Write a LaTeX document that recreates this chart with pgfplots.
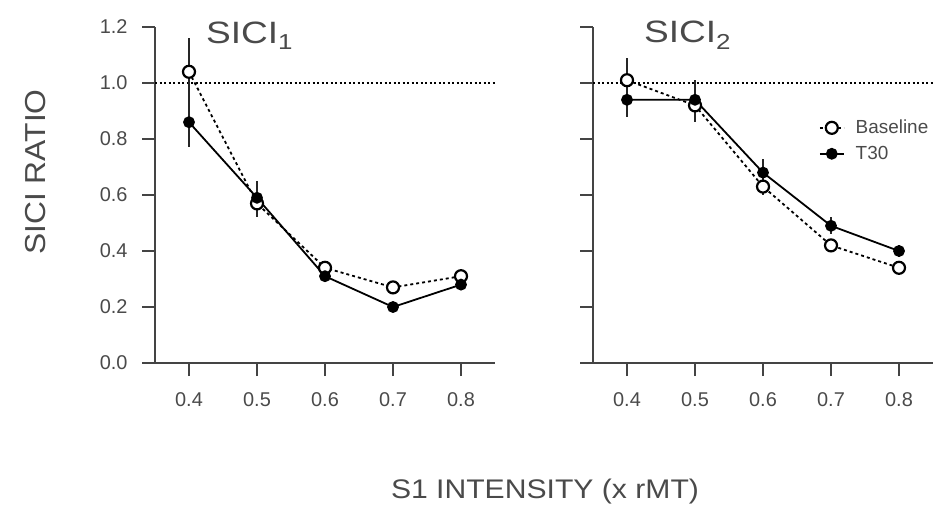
\documentclass[border=0pt]{standalone}
\usepackage{pgfplots}
\pgfplotsset{compat=1.18}
\usepackage{pgfplotstable}
\usepackage{fontspec}
\setmainfont{Liberation Sans}
\definecolor{txt}{HTML}{4A4A4A}
\definecolor{axc}{HTML}{444444}
\newcommand\tl[1]{{\fontsize{20}{22}\selectfont #1}}

\pgfplotstableread{
x y e
0.4 1.04 0.12
0.5 0.57 0.05
0.6 0.34 0.02
0.7 0.27 0.02
0.8 0.31 0.02
}\leftbase
\pgfplotstableread{
x y e
0.4 0.86 0.09
0.5 0.59 0.06
0.6 0.31 0.02
0.7 0.20 0.01
0.8 0.28 0.02
}\leftthirty
\pgfplotstableread{
x y e
0.4 1.01 0.08
0.5 0.92 0.06
0.6 0.63 0.03
0.7 0.42 0.02
0.8 0.34 0.02
}\rightbase
\pgfplotstableread{
x y e
0.4 0.94 0.06
0.5 0.94 0.07
0.6 0.68 0.05
0.7 0.49 0.03
0.8 0.40 0.02
}\rightthirty

\begin{document}
\begin{tikzpicture}[x=1bp,y=1bp]
\path[use as bounding box] (0,0) rectangle (942,-513);
\pgfplotsset{
  panel/.style={
    scale only axis, width=340bp, height=336bp,
    xmin=0.35, xmax=0.85, ymin=0, ymax=1.2,
    axis x line*=bottom, axis y line*=left,
    axis line style={axc, line width=2bp, -},
    every tick/.style={axc, line width=2bp},
    tick align=outside, major tick length=13bp,
    xtick={0.4,0.5,0.6,0.7,0.8},
    ytick={0,0.2,0.4,0.6,0.8,1.0,1.2},
    xticklabels={\tl{0.4},\tl{0.5},\tl{0.6},\tl{0.7},\tl{0.8}},
    yticklabels={\tl{0.0},\tl{0.2},\tl{0.4},\tl{0.6},\tl{0.8},\tl{1.0},\tl{1.2}},
    tick label style={text=txt},
    xticklabel style={yshift=-13bp},
    yticklabel style={xshift=-11bp},
    clip=false,
    legend style={draw=none, fill=none, font=\fontsize{19}{22}\selectfont, text=txt,
      row sep=7bp, /tikz/every odd column/.append style={column sep=9bp}},
    legend cell align=left,
    legend image code/.code={\draw[mark repeat=2,mark phase=2] plot coordinates {(0bp,0bp)(12bp,0bp)(24bp,0bp)};},
  },
  base/.style={black, line width=1.8bp, dash pattern=on 3bp off 3bp,
    mark=*, mark size=6bp, mark options={solid, fill=white, draw=black, line width=2.2bp},
    error bars/.cd, y dir=both, y explicit, error mark=none,
    error bar style={solid, line width=2bp, black!85}},
  thirty/.style={black, line width=1.8bp, solid,
    mark=*, mark size=5bp, mark options={solid, fill=black},
    error bars/.cd, y dir=both, y explicit, error mark=none,
    error bar style={solid, line width=2bp, black!85}},
}
\begin{axis}[panel, at={(155bp,-363bp)}, anchor=south west]
\addplot[black, line width=1.2bp, dash pattern=on 2bp off 2.5bp, forget plot] coordinates {(0.35,1) (0.85,1)};
\addplot[base] table[x=x, y=y, y error=e] {\leftbase};
\addplot[thirty] table[x=x, y=y, y error=e] {\leftthirty};
\node[anchor=west, text=txt, font=\fontsize{31}{33}\selectfont] at (rel axis cs:0.14,0.975) {\scalebox{1.2}[1]{SICI\textsubscript{1}}};
\end{axis}
\begin{axis}[panel, at={(593bp,-363bp)}, anchor=south west, yticklabels={},
  legend style={at={(rel axis cs:0.655,0.735)}, anchor=north west}]
\addplot[black, line width=1.2bp, dash pattern=on 2bp off 2.5bp, forget plot] coordinates {(0.35,1) (0.85,1)};
\addplot[base] table[x=x, y=y, y error=e] {\rightbase};
\addlegendentry{Baseline}
\addplot[thirty] table[x=x, y=y, y error=e] {\rightthirty};
\addlegendentry{T30}
\node[anchor=west, text=txt, font=\fontsize{31}{33}\selectfont] at (rel axis cs:0.14,0.975) {\scalebox{1.2}[1]{SICI\textsubscript{2}}};
\end{axis}
\node[rotate=90, text=txt, font=\fontsize{29}{31}\selectfont] at (36,-172) {\scalebox{1.1}[1]{SICI RATIO}};
\node[text=txt, font=\fontsize{27}{29}\selectfont] at (545,-492) {\scalebox{1.12}[1]{S1 INTENSITY (x rMT)}};
\end{tikzpicture}
\end{document}
